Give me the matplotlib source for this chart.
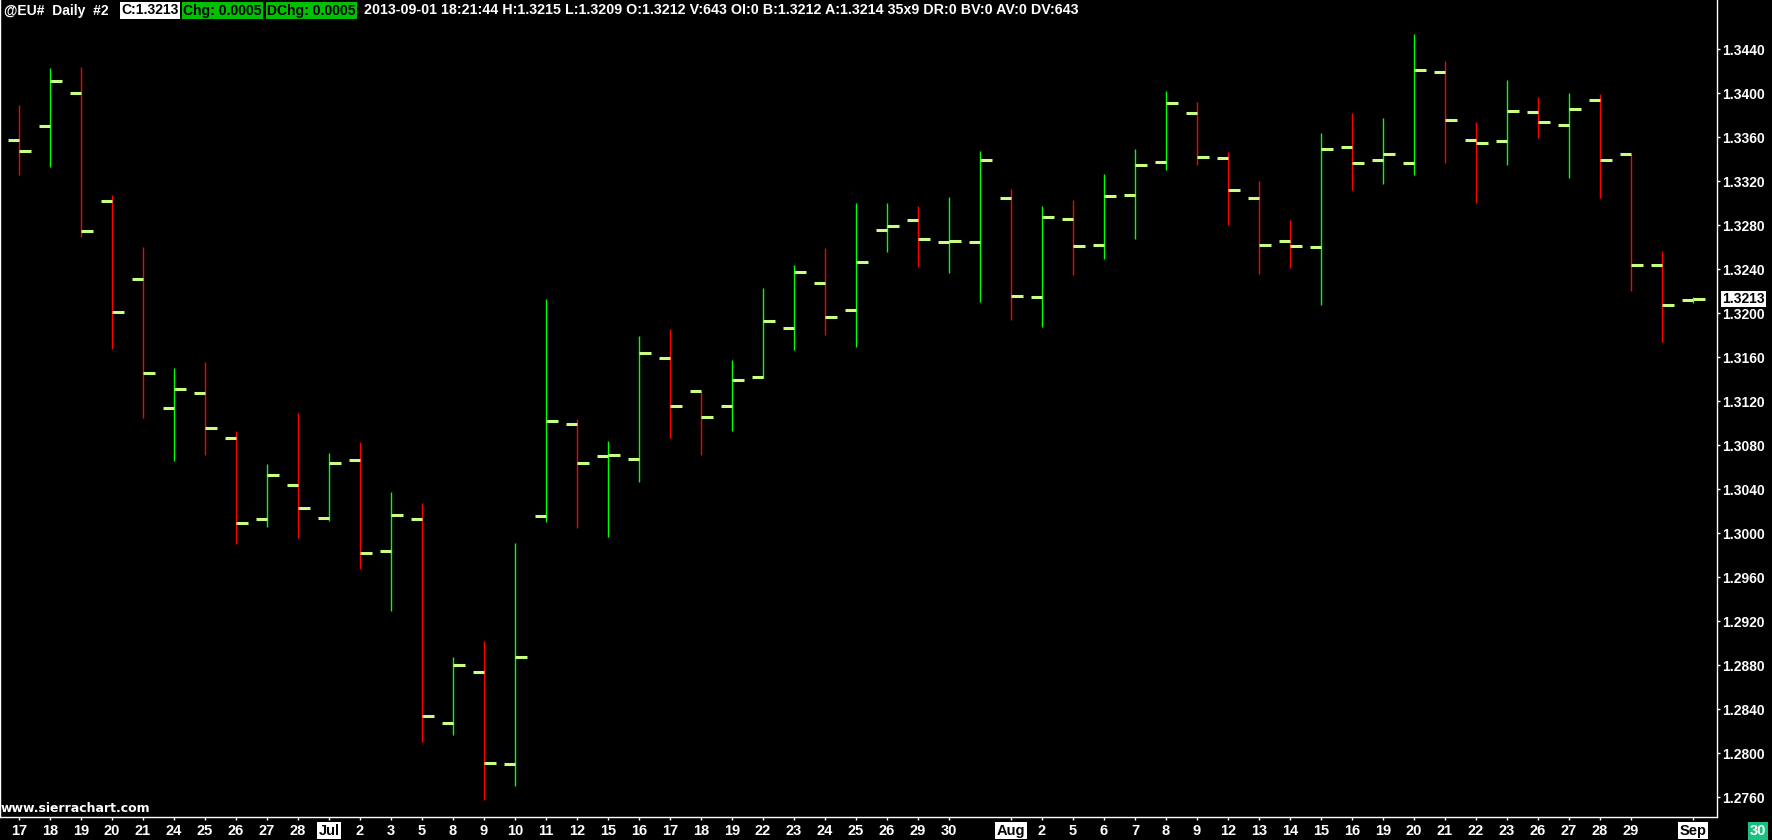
import matplotlib
matplotlib.use("Agg")
import matplotlib.pyplot as plt
import numpy as np

# ---- data (EUR/USD daily OHLC, Jun 17 - Sep 1 2013) ----
day_labels = ["17", "18", "19", "20", "21", "24", "25", "26", "27", "28",
              "Jul", "2", "3", "5", "8", "9", "10", "11", "12", "15",
              "16", "17", "18", "19", "22", "23", "24", "25", "26", "29",
              "30", "", "Aug", "2", "5", "6", "7", "8", "9", "12",
              "13", "14", "15", "16", "19", "20", "21", "22", "23", "26",
              "27", "28", "29", "", "Sep"]
opens = [1.3358, 1.3370, 1.3400, 1.3302, 1.3231, 1.3114, 1.3128, 1.3087, 1.3013, 1.3044,
         1.3014, 1.3067, 1.2984, 1.3013, 1.2828, 1.2874, 1.2790, 1.3016, 1.3099, 1.3070,
         1.3068, 1.3159, 1.3129, 1.3116, 1.3142, 1.3187, 1.3228, 1.3203, 1.3276, 1.3285,
         1.3265, 1.3265, 1.3305, 1.3215, 1.3286, 1.3262, 1.3308, 1.3338, 1.3382, 1.3341,
         1.3305, 1.3266, 1.3260, 1.3351, 1.3339, 1.3337, 1.3419, 1.3358, 1.3357, 1.3383,
         1.3371, 1.3394, 1.3345, 1.3244, 1.3212]
highs = [1.3389, 1.3423, 1.3424, 1.3308, 1.3260, 1.3150, 1.3156, 1.3093, 1.3063, 1.3109,
         1.3073, 1.3083, 1.3038, 1.3028, 1.2888, 1.2902, 1.2991, 1.3213, 1.3104, 1.3084,
         1.3179, 1.3186, 1.3129, 1.3158, 1.3223, 1.3244, 1.3259, 1.3300, 1.3300, 1.3298,
         1.3306, 1.3348, 1.3313, 1.3298, 1.3303, 1.3327, 1.3349, 1.3402, 1.3392, 1.3347,
         1.3320, 1.3285, 1.3364, 1.3382, 1.3378, 1.3454, 1.3429, 1.3374, 1.3412, 1.3397,
         1.3400, 1.3399, 1.3345, 1.3257, 1.3215]
lows = [1.3326, 1.3333, 1.3269, 1.3168, 1.3105, 1.3066, 1.3071, 1.2990, 1.3006, 1.2996,
        1.3011, 1.2968, 1.2929, 1.2810, 1.2817, 1.2758, 1.2770, 1.3010, 1.3005, 1.2997,
        1.3047, 1.3087, 1.3071, 1.3093, 1.3141, 1.3167, 1.3180, 1.3169, 1.3256, 1.3242,
        1.3237, 1.3210, 1.3194, 1.3188, 1.3235, 1.3249, 1.3268, 1.3330, 1.3335, 1.3280,
        1.3236, 1.3241, 1.3208, 1.3312, 1.3318, 1.3326, 1.3337, 1.3300, 1.3335, 1.3359,
        1.3323, 1.3305, 1.3220, 1.3174, 1.3209]
closes = [1.3348, 1.3411, 1.3275, 1.3201, 1.3146, 1.3131, 1.3096, 1.3009, 1.3053, 1.3023,
          1.3064, 1.2982, 1.3017, 1.2834, 1.2880, 1.2791, 1.2888, 1.3102, 1.3064, 1.3071,
          1.3164, 1.3116, 1.3106, 1.3139, 1.3193, 1.3238, 1.3197, 1.3247, 1.3279, 1.3268,
          1.3266, 1.3339, 1.3216, 1.3288, 1.3261, 1.3307, 1.3335, 1.3391, 1.3342, 1.3312,
          1.3262, 1.3261, 1.3349, 1.3337, 1.3345, 1.3421, 1.3376, 1.3355, 1.3384, 1.3374,
          1.3386, 1.3339, 1.3244, 1.3208, 1.3213]
price_ticks = [1.2760, 1.2800, 1.2840, 1.2880, 1.2920, 1.2960, 1.3000, 1.3040, 1.3080,
               1.3120, 1.3160, 1.3200, 1.3240, 1.3280, 1.3320, 1.3360, 1.3400, 1.3440]
last_price = 1.3213
header_plain = "@EU#  Daily  #2"
header_boxes = ["C:1.3213", "Chg: 0.0005", "DChg: 0.0005"]
header_rest = ("2013-09-01 18:21:44 H:1.3215 L:1.3209 O:1.3212 V:643 OI:0 B:1.3212 "
               "A:1.3214 35x9 DR:0 BV:0 AV:0 DV:643")

W, H = 1772, 840
FONT = "Liberation Sans"
fig = plt.figure(figsize=(W / 100, H / 100), dpi=100, facecolor="black")
ax_right, ax_bottom = 1717, 817
ax = fig.add_axes([0, (H - ax_bottom) / H, ax_right / W, ax_bottom / H])
ax.set_facecolor("black")

n = len(opens)
x = np.arange(n)
spacing = 31.0
x0 = 19.0
ax.set_xlim(-x0 / spacing, (ax_right - x0) / spacing)
ax.set_ylim(1.3440 - (ax_bottom - 49.3) / 11000, 1.3440 + 49.3 / 11000)

o = np.array(opens); h = np.array(highs); l = np.array(lows); c = np.array(closes)
up = c >= o
vcol = np.where(up, "#00FF00", "#FF0000")
ax.vlines(x, l, h, colors=vcol, linewidth=1.0)
tlen = 11.5 / spacing
tick_col = "#C8FF80"
ax.hlines(o, x - tlen, x, colors=tick_col, linewidth=2.2, capstyle="butt")
ax.hlines(c, x, x + tlen, colors=tick_col, linewidth=2.2, capstyle="butt")

# spines
ax.spines["top"].set_visible(False)
for s in ["left", "right", "bottom"]:
    ax.spines[s].set_color("white")
    ax.spines[s].set_linewidth(1.0)

# y axis on right
ax.yaxis.tick_right()
ax.set_yticks(price_ticks)
ax.set_yticklabels([f"{p:.4f}" for p in price_ticks])
ax.tick_params(axis="y", colors="white", length=2.5, width=1, pad=1.5,
               labelsize=10, direction="out")
for t in ax.get_yticklabels():
    t.set_fontfamily(FONT); t.set_fontweight("bold"); t.set_color("white")

# x axis
xt = [i for i, s in enumerate(day_labels) if s]
ax.set_xticks(xt)
ax.set_xticklabels([day_labels[i] for i in xt])
ax.tick_params(axis="x", colors="white", length=2.5, width=1, pad=2.5,
               labelsize=10.5, direction="out")
for t in ax.get_xticklabels():
    t.set_fontfamily(FONT); t.set_fontweight("bold"); t.set_color("white")
    if t.get_text() in ("Jul", "Aug", "Sep"):
        t.set_color("black")
        t.set_bbox(dict(facecolor="white", edgecolor="none", pad=1.0))

# last price marker on axis
ax.text(1 + 5 / ax_right, last_price, f"{last_price:.4f}",
        transform=ax.get_yaxis_transform(), ha="left", va="center",
        fontsize=10, fontweight="bold", family=FONT, color="black",
        bbox=dict(facecolor="white", edgecolor="none", pad=0.8), clip_on=False)

# bottom-right bar counter box
fig.text(1758 / W, 1 - 831 / H, "30", ha="center", va="center", fontsize=10.5,
         fontweight="bold", family=FONT, color="white",
         bbox=dict(facecolor="#1DBF80", edgecolor="none", pad=1.5))

# watermark
ax.text(0.5 / ax_right, 1 - 808 / ax_bottom, "www.sierrachart.com",
        transform=ax.transAxes, ha="left", va="center", fontsize=9.0,
        fontweight="bold", family="DejaVu Sans", color="white")

# header line
hy = 1 - 10.5 / H
fig.text(4.5 / W, hy, header_plain, ha="left", va="center", fontsize=10,
         fontweight="bold", family=FONT, color="white")
box_x = [121, 183, 267]
box_fc = ["white", "#00C000", "#00C000"]
for bx, txt, fc in zip(box_x, header_boxes, box_fc):
    fig.text(bx / W, hy, txt, ha="left", va="center", fontsize=10,
             fontweight="bold", family=FONT, color="black",
             bbox=dict(facecolor=fc, edgecolor="none", pad=1.0))
fig.text(364 / W, hy, header_rest, ha="left", va="center", fontsize=10.25,
         fontweight="bold", family=FONT, color="white")

fig.savefig("out.png", dpi=100, facecolor="black")
